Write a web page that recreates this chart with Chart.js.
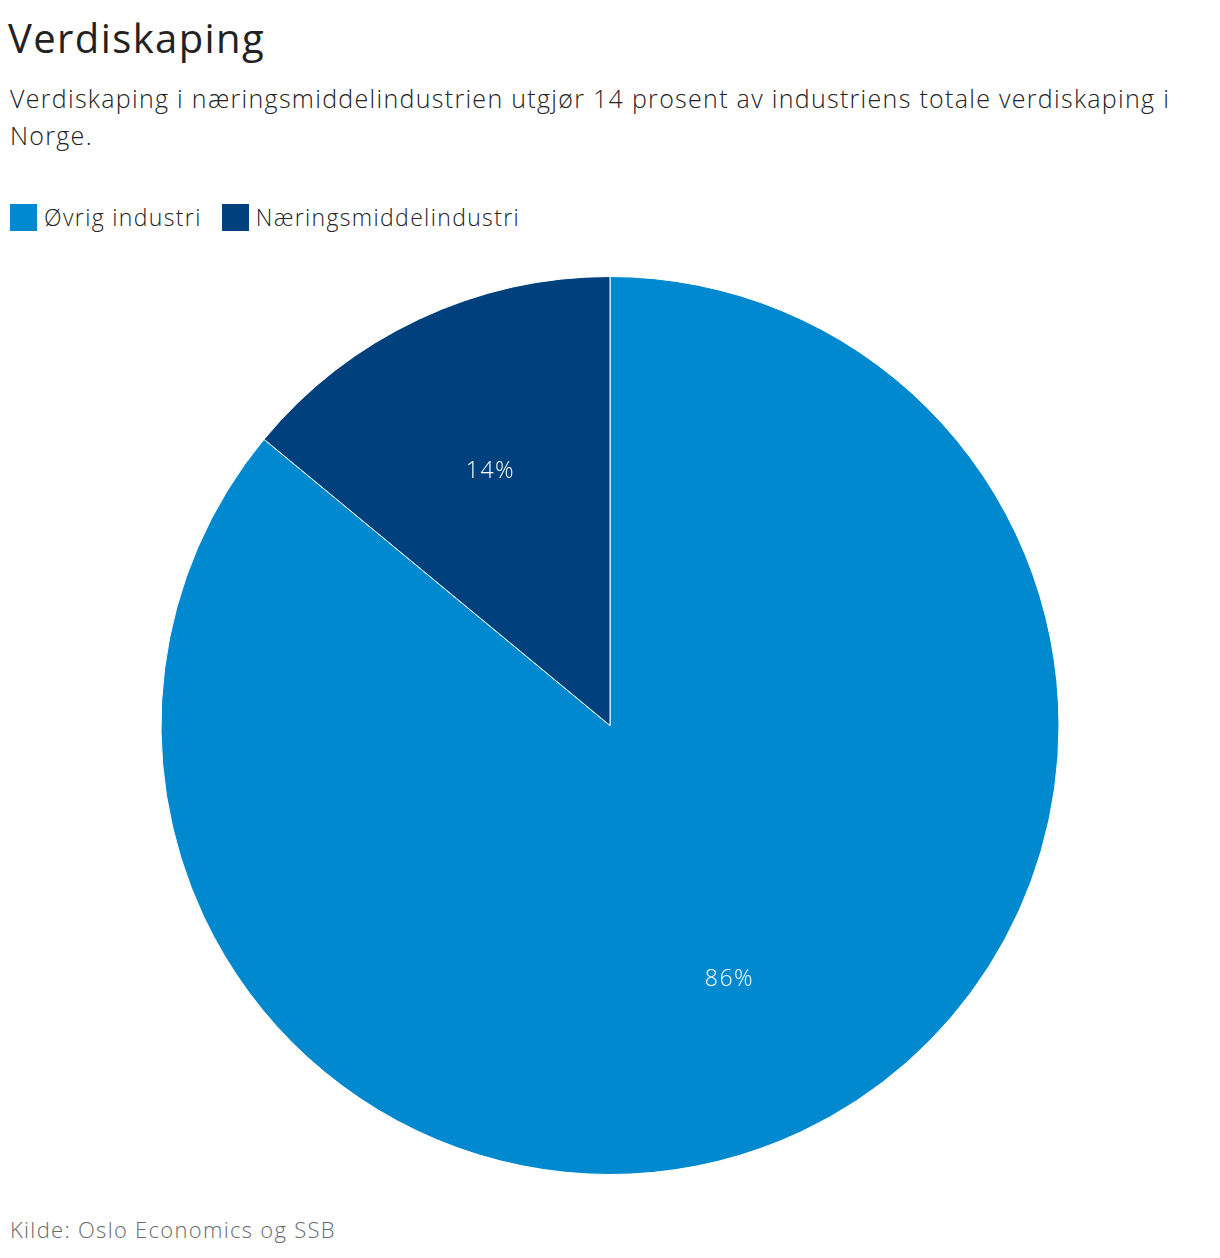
<!DOCTYPE html>
<html>
<head>
<meta charset="utf-8">
<script src="https://cdn.jsdelivr.net/npm/chart.js@4"></script>
<style>
  body{margin:0;background:#fff;font-family:"Open Sans",Lato,sans-serif;font-weight:300;color:#222;width:1220px;height:1258px;position:relative;overflow:hidden}
  #tittel{position:absolute;left:8px;top:12px;font-size:40px;line-height:52px;color:#222;font-weight:400;letter-spacing:1.4px}
  #undertittel{position:absolute;left:10px;top:80px;font-size:25px;line-height:37px;color:#222;letter-spacing:1.3px;white-space:nowrap}
  #forklaring{position:absolute;left:10px;top:202px;font-size:23px;line-height:30px;display:flex;letter-spacing:1.35px}
  .post{display:flex;align-items:center;margin-right:20px}
  .boks{width:27px;height:27px;margin-right:7px}
  #kilde{position:absolute;left:10px;top:1214px;font-size:22px;color:#6a6a6a;letter-spacing:1.3px}
  #graf{position:absolute;left:0;top:276px;width:1220px;height:899px}
</style>
</head>
<body>
<div id="tittel">Verdiskaping</div>
<div id="undertittel">Verdiskaping i næringsmiddelindustrien utgjør 14 prosent av industriens totale verdiskaping i<br>Norge.</div>
<div id="forklaring"></div>
<div id="graf"><canvas id="kake"></canvas></div>
<div id="kilde">Kilde: Oslo Economics og SSB</div>
<script>
// data
const kategorier=['Øvrig industri','Næringsmiddelindustri']
const andeler=[86,14]
const farger=['#0089CF','#00417D']

// forklaring laget i html
const forklaring=document.getElementById('forklaring')
kategorier.forEach(function(navn,i){
    const post=document.createElement('div')
    post.className='post'
    post.innerHTML='<span class="boks" style="background:'+farger[i]+'"></span><span>'+navn+'</span>'
    forklaring.appendChild(post)
})

// tegner prosent inne i hver bit
const etiketter={
    id:'etiketter',
    afterDatasetsDraw(chart){
        const ctx=chart.ctx
        const meta=chart.getDatasetMeta(0)
        ctx.save()
        ctx.fillStyle='#fff'
        ctx.font='300 23px "Open Sans", Lato, sans-serif'
        ctx.letterSpacing='1.5px'
        ctx.textAlign='center'
        ctx.textBaseline='middle'
        meta.data.forEach(function(bue,i){
            const p=bue.getProps(['x','y','startAngle','endAngle','outerRadius'],true)
            const midt=(p.startAngle+p.endAngle)/2
            const r=p.outerRadius*0.625
            ctx.fillText(andeler[i]+'%',p.x+Math.cos(midt)*r,p.y+Math.sin(midt)*r)
        })
        ctx.restore()
    }
}

new Chart(document.getElementById('kake'),{
    type:'pie',
    data:{
        labels:kategorier,
        datasets:[{
            data:andeler,
            backgroundColor:farger,
            borderColor:'#fff',
            borderWidth:1
        }]
    },
    options:{
        responsive:true,
        maintainAspectRatio:false,
        animation:false,
        layout:{padding:0},
        plugins:{
            legend:{display:false},
            tooltip:{enabled:false}
        }
    },
    plugins:[etiketter]
})
</script>
</body>
</html>
